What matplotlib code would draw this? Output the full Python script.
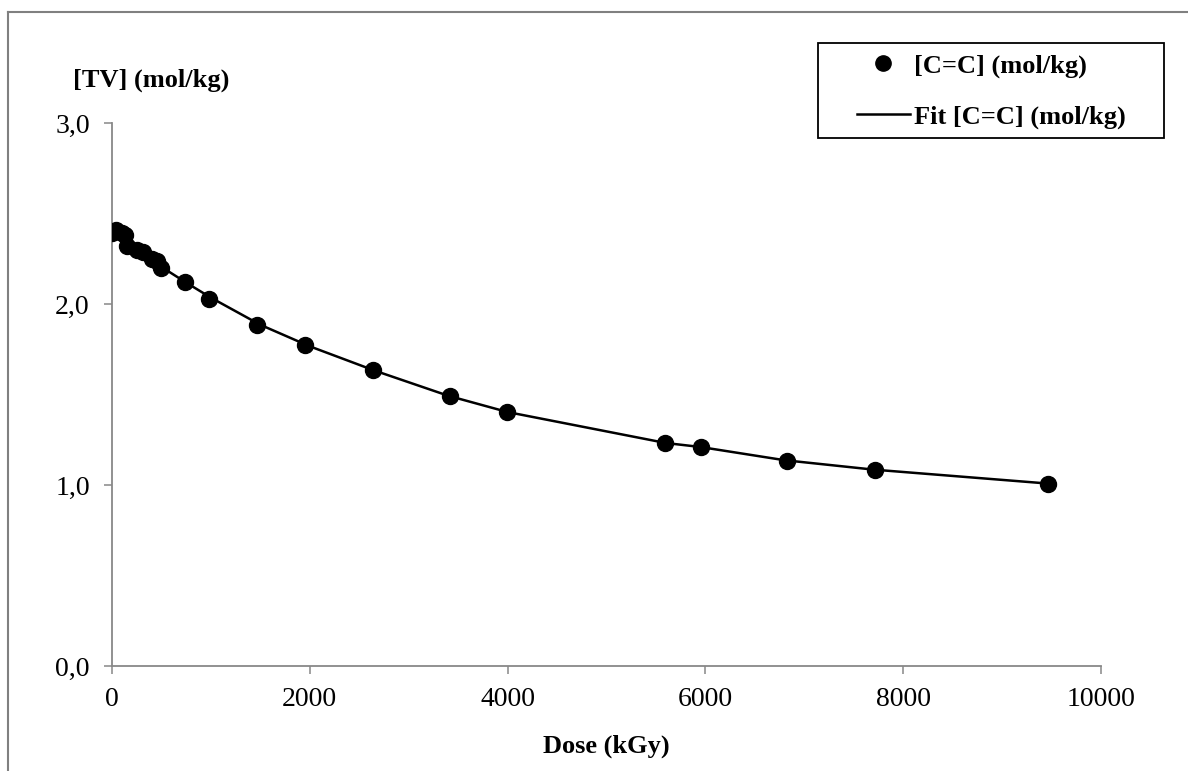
import matplotlib
matplotlib.use("Agg")
import matplotlib.pyplot as plt
from matplotlib.lines import Line2D
from matplotlib.patches import Rectangle
from matplotlib.ticker import FuncFormatter

# Data
dose = [0, 40, 100, 130, 150, 250, 310, 400, 450, 495,
        738, 981, 1466, 1951, 2639, 3418, 3994, 5591, 5956, 6825, 7715, 9464]
cc = [2.39, 2.41, 2.395, 2.38, 2.32, 2.30, 2.285, 2.25, 2.235, 2.20,
      2.12, 2.03, 1.884, 1.773, 1.635, 1.492, 1.403, 1.232, 1.21, 1.135, 1.083, 1.006]

fit_dose = [0, 100, 250, 500, 750, 1000, 1500, 2000, 2650, 3400, 4000,
            5600, 5950, 6800, 7700, 9464]
fit_cc = [2.40, 2.36, 2.305, 2.205, 2.118, 2.035, 1.885, 1.766, 1.633, 1.493, 1.403,
          1.232, 1.21, 1.137, 1.085, 1.008]

xticks = [0, 2000, 4000, 6000, 8000, 10000]
yticks = [0.0, 1.0, 2.0, 3.0]

plt.rcParams['font.family'] = ['Liberation Serif', 'DejaVu Serif']

W, H = 1188, 771
fig = plt.figure(figsize=(W / 100, H / 100), dpi=100)
ax = fig.add_axes([112 / W, 1 - 666 / H, (1101 - 112) / W, (666 - 123) / H])

ax.plot(fit_dose, fit_cc, color='black', lw=1.8, zorder=2)
ax.plot(dose, cc, 'o', color='black', ms=11.5, zorder=3)

ax.set_xlim(0, 10000)
ax.set_ylim(0, 3.0)
ax.set_xticks(xticks)
ax.set_yticks(yticks)
ax.yaxis.set_major_formatter(FuncFormatter(lambda v, p: f"{v:.1f}".replace('.', ',')))

for s in ['top', 'right']:
    ax.spines[s].set_visible(False)
for s in ['left', 'bottom']:
    ax.spines[s].set_color('#888888')
    ax.spines[s].set_linewidth(1.3)
ax.tick_params(axis='both', direction='out', length=6, width=1.1, color='#888888',
               labelsize=20)
ax.tick_params(axis='x', pad=9)
ax.tick_params(axis='y', pad=10)

fig.text(606 / W, 1 - 746 / H, 'Dose (kGy)', fontsize=19, fontweight='bold',
         ha='center', va='center')
fig.text(151 / W, 1 - 80 / H, '[TV] (mol/kg)', fontsize=19, fontweight='bold',
         ha='center', va='center')

# legend box
fig.add_artist(Rectangle((818 / W, 1 - 138 / H), (1164 - 818) / W, (138 - 43) / H,
                         transform=fig.transFigure, fill=True, facecolor='white',
                         edgecolor='black', lw=1.3, zorder=5))
handles = [Line2D([], [], ls='none', marker='o', color='black', ms=11),
           Line2D([], [], color='black', lw=1.8)]
labels = ['[C=C] (mol/kg)', 'Fit [C=C] (mol/kg)']
leg = fig.legend(handles, labels, loc='upper left',
                 bbox_to_anchor=(857 / W, 1 - 54 / H), bbox_transform=fig.transFigure,
                 frameon=False, prop={'weight': 'bold', 'size': 19}, handlelength=2.0,
                 handletextpad=0.15, labelspacing=1.02, borderpad=0, borderaxespad=0)
leg.set_zorder(6)

# outer frame (top and left)
fig.add_artist(Line2D([8 / W, 8 / W], [0, 1 - 12 / H], transform=fig.transFigure,
                      color='#808080', lw=1.5))
fig.add_artist(Line2D([8 / W, 1], [1 - 12 / H, 1 - 12 / H], transform=fig.transFigure,
                      color='#808080', lw=1.5))

fig.savefig('out.png', dpi=100)
